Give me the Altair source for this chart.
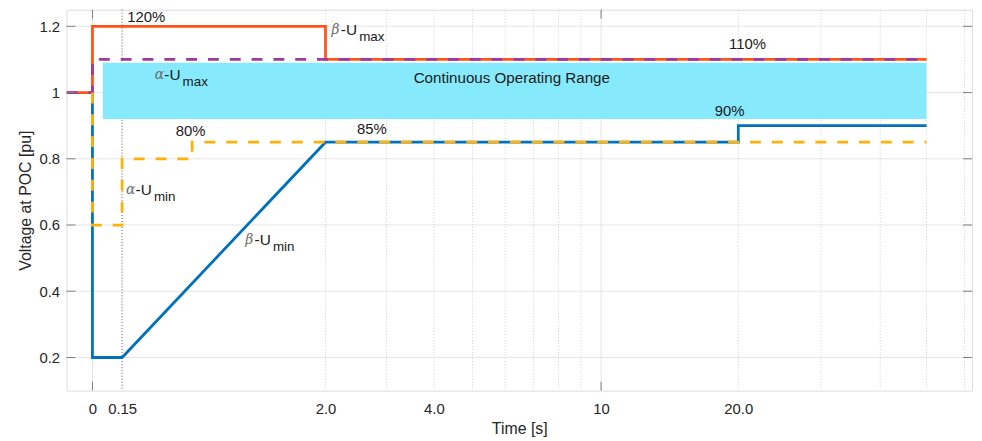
import altair as alt
import pandas as pd

# ---------------- data ----------------
beta_umax_t = [-0.13, 0, 0, 2, 2, 50]
beta_umax_v = [1.0, 1.0, 1.2, 1.2, 1.1, 1.1]
alpha_umax_t = [-0.13, 0, 0, 50]
alpha_umax_v = [1.0, 1.0, 1.1, 1.1]
beta_umin_t = [0, 0, 0.15, 2, 20, 20, 50]
beta_umin_v = [1.0, 0.2, 0.2, 0.85, 0.85, 0.9, 0.9]
alpha_umin_t = [0, 0, 0.15, 0.15, 0.6, 0.6, 50]
alpha_umin_v = [1.0, 0.6, 0.6, 0.8, 0.8, 0.85, 0.85]

range_t = [0.05, 50]
range_v = [0.92, 1.09]
range_label = "Continuous Operating Range"

x_ticks = [0, 0.15, 2, 4, 10, 20]
x_tick_labels = ["0", "0.15", "2.0", "4.0", "10", "20.0"]
y_ticks = [0.2, 0.4, 0.6, 0.8, 1.0, 1.2]
y_tick_labels = ["0.2", "0.4", "0.6", "0.8", "1", "1.2"]
x_major = [0, 10]
x_minor = [2, 3, 4, 5, 6, 7, 8, 9, 20, 30, 40, 50, 60]
x_marker = [0.15]

pct_text = ["120%", "80%", "85%", "110%", "90%"]
pct_t = [0.178, 0.481, 2.48, 19.1, 17.8]
pct_v = [1.227, 0.885, 0.891, 1.146, 0.945]

sub_greek = ["β", "α", "α", "β"]
sub_sub = ["max", "max", "min", "min"]
sub_t = [2.085, 0.342, 0.172, 1.054]
sub_v = [1.188, 1.053, 0.705, 0.555]

W, H = 913, 384
FONT = "Liberation Sans"
TXT = "#262626"


def expr_map(vals, labels):
    e = "''"
    for v, l in reversed(list(zip(vals, labels))):
        e = f"abs(datum.value - {v}) < 1e-6 ? '{l}' : ({e})"
    return e


xscale = alt.Scale(type="symlog", constant=1, domain=[-0.13, 62.2], nice=False, zero=False)
yscale = alt.Scale(domain=[0.1, 1.25], nice=False, zero=False)

xaxis = alt.Axis(values=x_ticks, labelExpr=expr_map(x_ticks, x_tick_labels), grid=False,
                 ticks=False, domain=False, labelFontSize=15, labelFont=FONT, labelColor=TXT,
                 labelPadding=11, title="Time [s]", titleFont=FONT, titleFontSize=16,
                 titleFontWeight="normal", titleColor=TXT, titlePadding=4, labelFlush=False)
yaxis = alt.Axis(values=y_ticks, labelExpr=expr_map(y_ticks, y_tick_labels), grid=False,
                 ticks=False, domain=False, labelFontSize=15, labelFont=FONT, labelColor=TXT,
                 labelPadding=7, title="Voltage at POC [pu]", titleFont=FONT, titleFontSize=16,
                 titleFontWeight="normal", titleColor=TXT, titlePadding=5)


def line_df(t, v):
    return pd.DataFrame({"t": t, "v": v, "i": list(range(len(t)))})


def X():
    return alt.X("t:Q", scale=xscale, axis=xaxis)


def Y():
    return alt.Y("v:Q", scale=yscale, axis=yaxis)


# grid
hgrid = alt.Chart(pd.DataFrame({"v": y_ticks})).mark_rule(color="#e6e6e6", strokeWidth=1).encode(
    y=Y())
vgrid_major = alt.Chart(pd.DataFrame({"t": x_major})).mark_rule(color="#e3e3e3", strokeWidth=1).encode(
    x=X())
vgrid_minor = alt.Chart(pd.DataFrame({"t": x_minor})).mark_rule(
    color="#cfcfcf", strokeWidth=1, strokeDash=[1, 2]).encode(x=X())
vmarker = alt.Chart(pd.DataFrame({"t": x_marker})).mark_rule(
    color="#555555", strokeWidth=1, strokeDash=[1, 2]).encode(x=X())

# continuous range
rect_df = pd.DataFrame({"t": [range_t[0]], "t2": [range_t[1]], "v": [range_v[0]], "v2": [range_v[1]]})
rect = alt.Chart(rect_df).mark_rect(color="#86EAFC").encode(
    x=X(), x2="t2:Q", y=Y(), y2="v2:Q")
rect_text_df = pd.DataFrame({"t": [6.22], "v": [1.044], "txt": [range_label]})
rect_text = alt.Chart(rect_text_df).mark_text(
    font=FONT, fontSize=15.3, color="#1a1a1a", align="center", baseline="middle").encode(
    x=X(), y=Y(), text="txt:N")


def line(t, v, color, dash=None):
    kw = dict(color=color, strokeWidth=2.8, strokeJoin="miter", strokeCap="butt", clip=True)
    if dash:
        kw["strokeDash"] = dash
    return alt.Chart(line_df(t, v)).mark_line(**kw).encode(
        x=X(), y=Y(), order="i:Q")


l_bmax = line(beta_umax_t, beta_umax_v, "#FF5419")
l_amax = line(alpha_umax_t, alpha_umax_v, "#9E3A9E", [11, 11])
l_bmin = line(beta_umin_t, beta_umin_v, "#0072BD")
l_amin = line(alpha_umin_t, alpha_umin_v, "#FFB10A", [11, 11])

# ticks (inward, MATLAB-like)
ytk = pd.DataFrame({"v": y_ticks})
tick_l = alt.Chart(ytk).mark_rule(color="#808080").encode(y=Y(), x=alt.value(0), x2=alt.value(9))
tick_r = alt.Chart(ytk).mark_rule(color="#808080").encode(y=Y(), x=alt.value(W - 9), x2=alt.value(W))
xtk = pd.DataFrame({"t": x_major})
tick_t = alt.Chart(xtk).mark_rule(color="#808080").encode(x=X(), y=alt.value(0), y2=alt.value(9))
tick_b = alt.Chart(xtk).mark_rule(color="#808080").encode(x=X(), y=alt.value(H - 9), y2=alt.value(H))

# annotations
pct_df = pd.DataFrame({"t": pct_t, "v": pct_v, "txt": pct_text})
pct = alt.Chart(pct_df).mark_text(font=FONT, fontSize=15, color="#1a1a1a", align="left",
                                  baseline="middle").encode(x=X(), y=Y(), text="txt:N")

sub_df = pd.DataFrame({"t": sub_t, "v": sub_v, "g": sub_greek, "s": sub_sub,
                       "u": ["-U"] * len(sub_t)})
greek = alt.Chart(sub_df).mark_text(font="DejaVu Serif", fontStyle="italic", fontSize=14,
                                    color="#6e6e6e", align="left", baseline="middle").encode(
    x=X(), y=Y(), text="g:N")
minus_u = alt.Chart(sub_df).mark_text(font=FONT, fontSize=15.5, color="#1a1a1a", align="left",
                                      baseline="middle", dx=9.5).encode(x=X(), y=Y(), text="u:N")
subs = alt.Chart(sub_df).mark_text(font=FONT, fontSize=13.5, color="#1a1a1a", align="left",
                                   baseline="middle", dx=28, dy=7).encode(x=X(), y=Y(), text="s:N")

chart = alt.layer(
    hgrid, vgrid_major, vgrid_minor, vmarker, rect, rect_text,
    l_bmax, l_amax, l_bmin, l_amin,
    tick_l, tick_r, tick_t, tick_b,
    pct, greek, minus_u, subs,
).properties(
    width=W, height=H,
    autosize=alt.AutoSizeParams(type="none"),
    padding={"left": 59, "top": 0, "right": 2, "bottom": 45},
).configure_view(stroke="#8a8a8a", strokeWidth=1).configure(background="white")

chart.save("out.html", embed_options={"renderer": "svg", "actions": False})
